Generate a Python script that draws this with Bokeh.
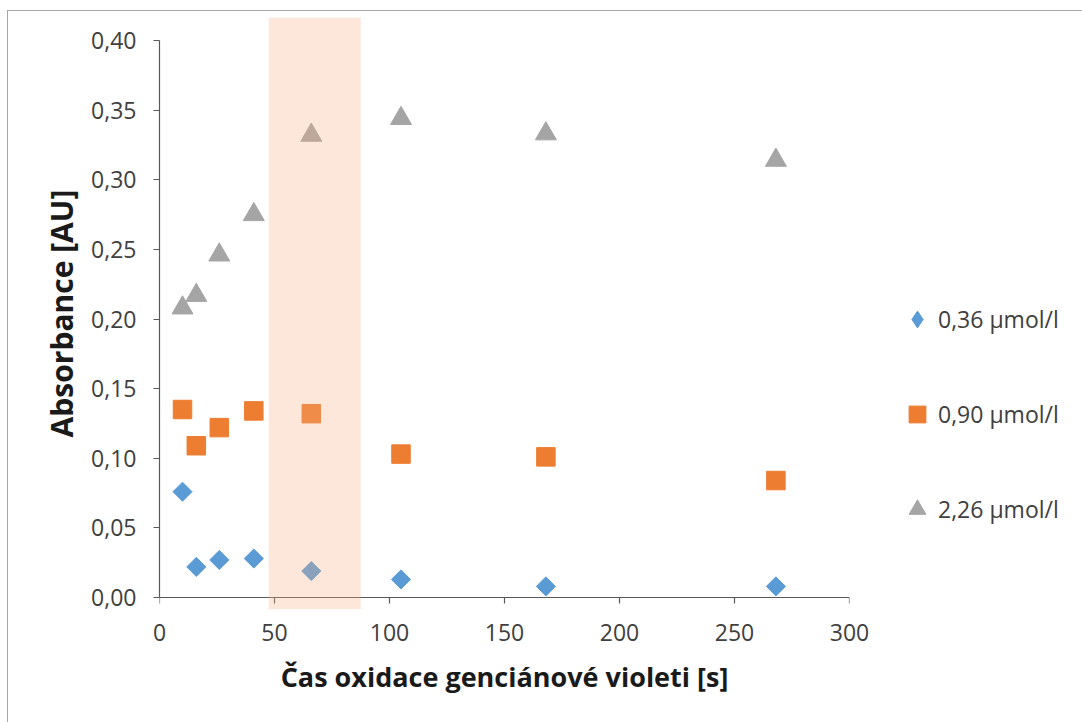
from bokeh.plotting import figure
from bokeh.models import (FixedTicker, CustomJSTickFormatter, BoxAnnotation,
                          Legend, LegendItem, Range1d, ColumnDataSource, LinearAxis)
from bokeh.embed import file_html
from bokeh.resources import INLINE
import math

# ---------------- data ----------------
time_s = [10, 16, 26, 41, 66, 105, 168, 268]
abs_036 = [0.076, 0.022, 0.027, 0.028, 0.019, 0.013, 0.008, 0.008]
abs_090 = [0.135, 0.109, 0.122, 0.134, 0.132, 0.103, 0.101, 0.084]
abs_226 = [0.208, 0.217, 0.246, 0.275, 0.332, 0.344, 0.333, 0.314]
series_labels = ["0,36 µmol/l", "0,90 µmol/l", "2,26 µmol/l"]
highlight_x = [47.5, 87.5]
x_ticks = [0, 50, 100, 150, 200, 250, 300]
y_ticks = [0.00, 0.05, 0.10, 0.15, 0.20, 0.25, 0.30, 0.35, 0.40]
x_title = "Čas oxidace genciánové violeti [s]"
y_title = "Absorbance [AU]"

FONT = "Open Sans"
AXIS_COL = "#595959"
TEXT_COL = "#404040"

# y range slightly larger than the axis so the highlight band can overhang it
Y_LO, Y_HI = -0.0086, 0.4165

p = figure(width=1074, height=711, frame_width=690, frame_height=592,
           min_border_left=151, min_border_right=233, min_border_top=6,
           min_border_bottom=113,
           x_range=Range1d(0, 300), y_range=Range1d(Y_LO, Y_HI),
           output_backend="svg", toolbar_location=None,
           background_fill_color="white", border_fill_color="white",
           margin=(10, 0, 0, 7),
           styles={"border-top": "1px solid #A6A6A6",
                   "border-left": "1px solid #A6A6A6"})
p.outline_line_color = None
p.grid.visible = False

src = ColumnDataSource(dict(t=time_s, a=abs_036, b=abs_090, c=abs_226))

r1 = p.scatter("t", "a", source=src, marker="square", size=13.5, angle=math.pi / 4,
               fill_color="#5B9BD5", line_color="#5B9BD5")
r2 = p.scatter("t", "b", source=src, marker="square", size=18.5,
               fill_color="#ED7D31", line_color="#ED7D31")
r3 = p.scatter("t", "c", source=src, marker="triangle", size=21,
               fill_color="#A5A5A5", line_color="#A5A5A5")
# legend-only glyph for the diamond series (legend glyphs ignore rotation)
r1_leg = p.scatter("t", "a", source=src, marker="diamond", size=13.5,
                   fill_color="#5B9BD5", line_color="#5B9BD5", visible=False)

# highlighted interval
p.add_layout(BoxAnnotation(left=highlight_x[0], right=highlight_x[1],
                           fill_color="#F4B183", fill_alpha=0.3,
                           line_color=None))


def style_axis(ax):
    ax.axis_line_color = AXIS_COL
    ax.axis_line_width = 1.2
    ax.major_tick_line_color = AXIS_COL
    ax.major_tick_line_width = 1.2
    ax.major_tick_in = 0
    ax.major_tick_out = 6
    ax.minor_tick_line_color = None
    ax.major_label_text_font = FONT
    ax.major_label_text_font_size = "23px"
    ax.major_label_text_color = TEXT_COL
    ax.axis_label_text_font = FONT
    ax.axis_label_text_font_style = "bold"
    ax.axis_label_text_color = "#1a1a1a"


# y axis
yax = p.yaxis[0]
style_axis(yax)
yax.ticker = FixedTicker(ticks=y_ticks)
yax.bounds = (0, 0.40)
yax.formatter = CustomJSTickFormatter(code="return tick.toFixed(2).replace('.', ',');")
yax.axis_label = y_title
yax.axis_label_text_font_size = "30px"
yax.major_label_standoff = 17
yax.axis_label_standoff = 6

# x axis labels (sits at frame bottom, line/ticks hidden)
xlab = p.xaxis[0]
style_axis(xlab)
xlab.ticker = FixedTicker(ticks=x_ticks)
xlab.axis_line_color = None
xlab.major_tick_line_color = None
xlab.major_tick_out = 0
xlab.major_label_standoff = 14
xlab.axis_label = x_title
xlab.axis_label_text_font_size = "27px"
xlab.axis_label_standoff = 14

# x axis line and ticks at y = 0
xline = LinearAxis(ticker=FixedTicker(ticks=x_ticks), fixed_location=0)
style_axis(xline)
xline.major_label_text_font_size = "0px"
xline.major_label_text_alpha = 0
xline.major_label_standoff = 0
p.add_layout(xline, "below")

legend = Legend(items=[LegendItem(label=series_labels[0], renderers=[r1_leg]),
                       LegendItem(label=series_labels[1], renderers=[r2]),
                       LegendItem(label=series_labels[2], renderers=[r3])],
                location=(47, 79), orientation="vertical",
                glyph_width=42, glyph_height=42, spacing=53,
                label_standoff=-6, padding=0, margin=0,
                border_line_color=None, background_fill_alpha=0,
                label_text_font=FONT, label_text_font_size="23px",
                label_text_color=TEXT_COL)
p.add_layout(legend, "right")

open("out.html", "w").write(file_html(p, INLINE))
